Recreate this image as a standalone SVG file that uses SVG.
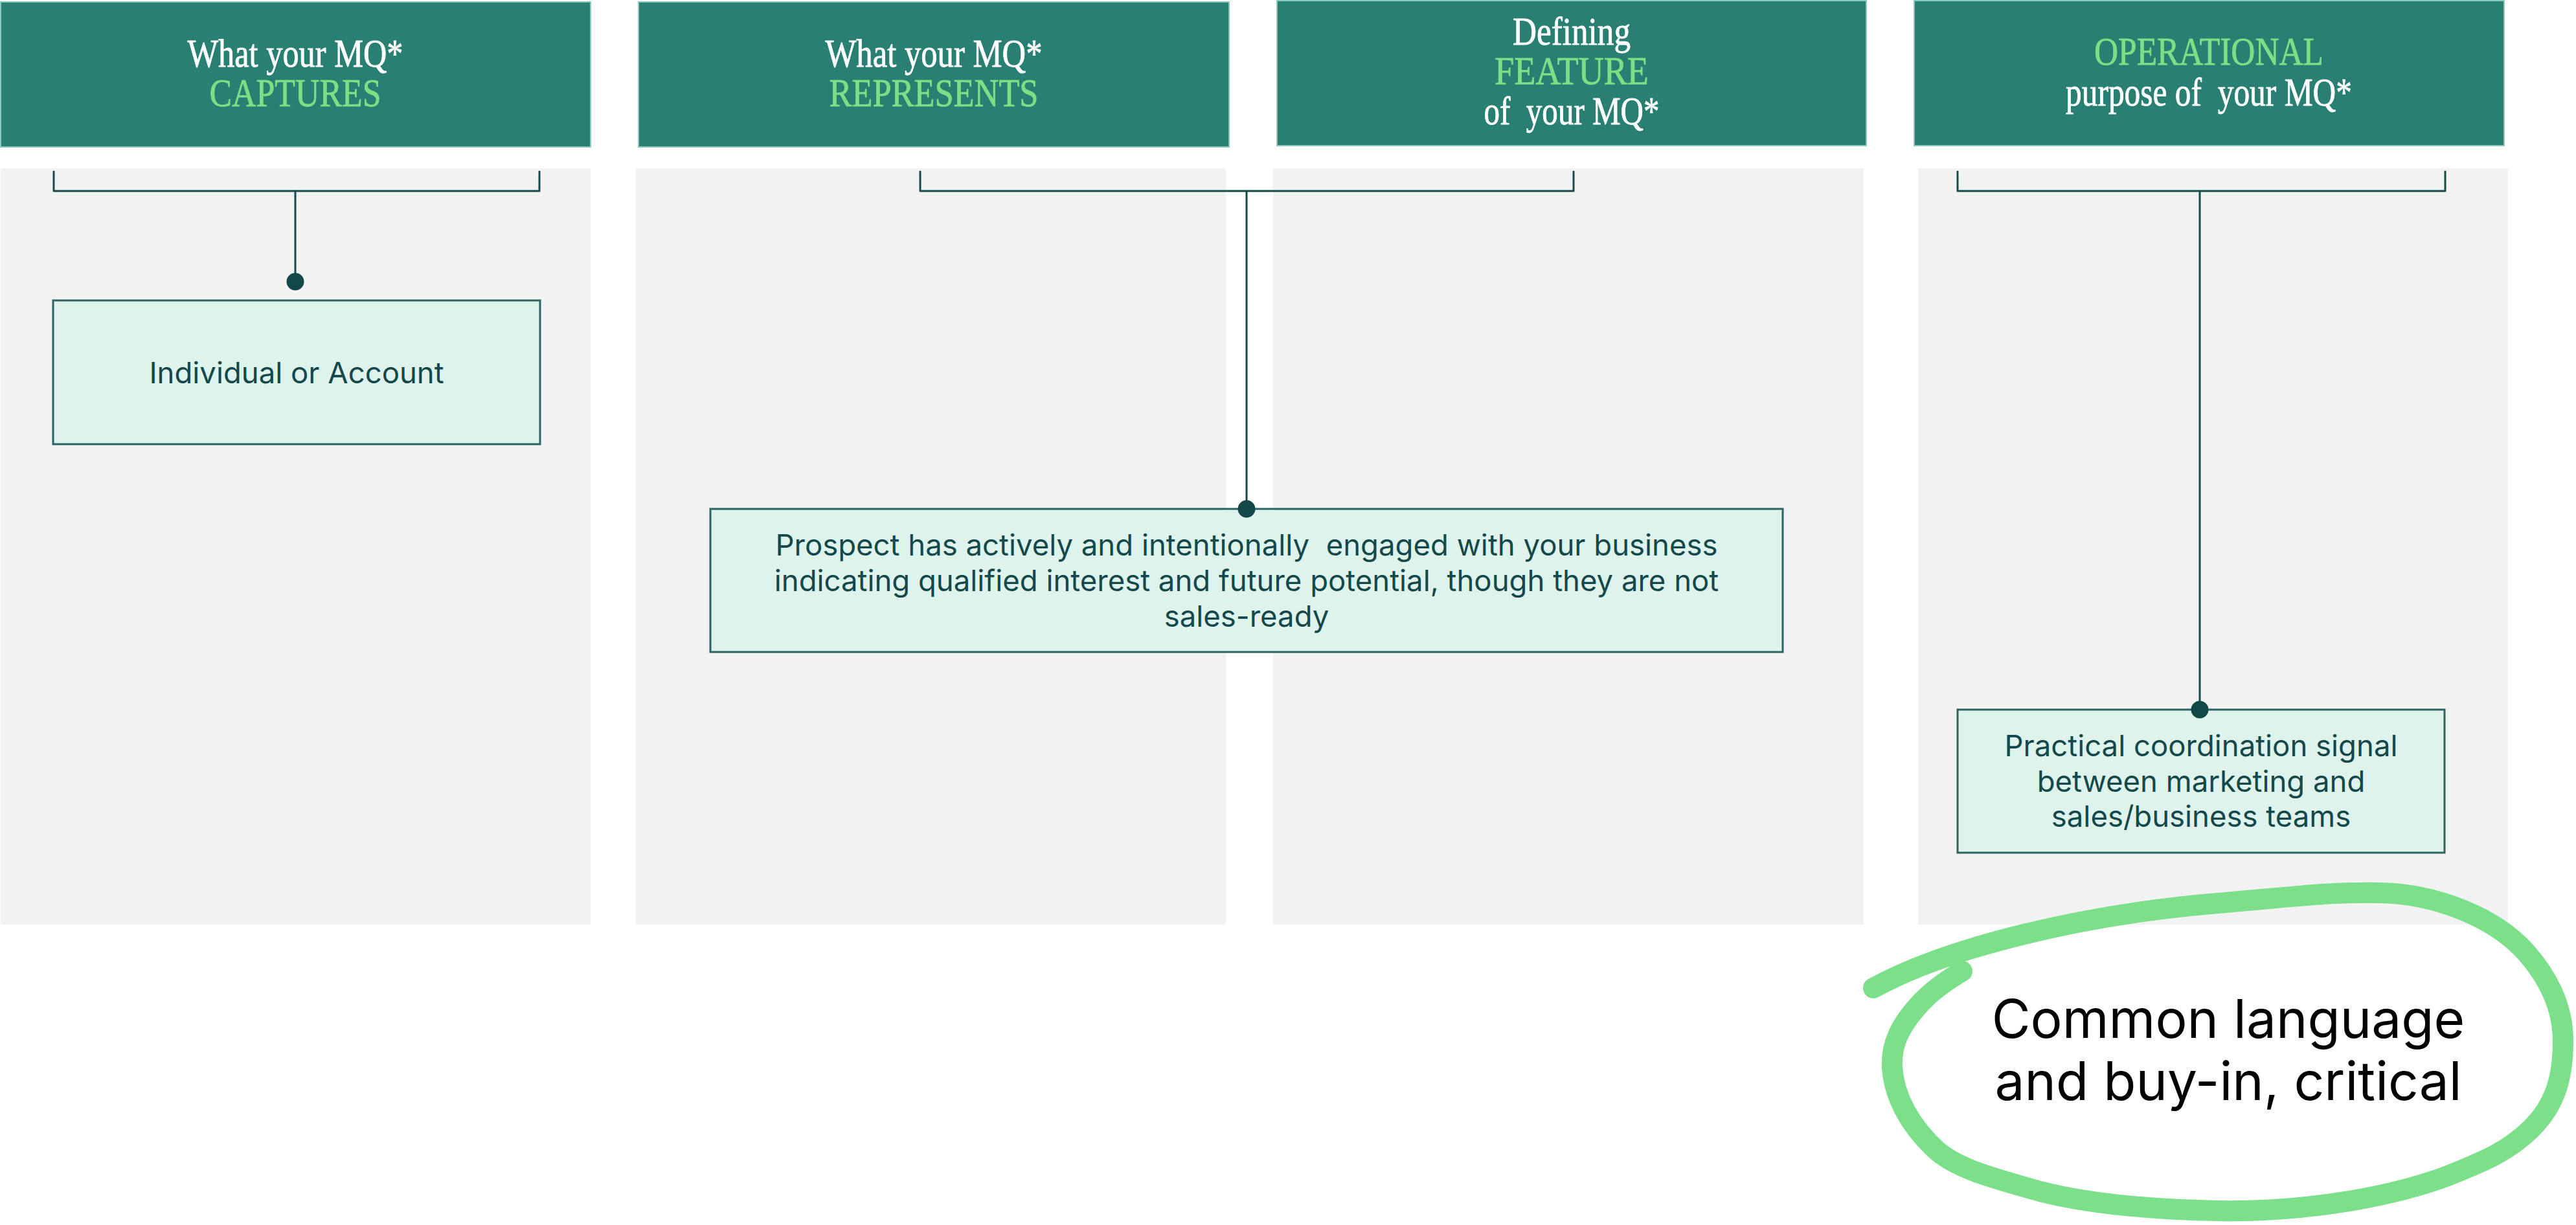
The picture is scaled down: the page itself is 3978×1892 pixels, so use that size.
<svg xmlns="http://www.w3.org/2000/svg" width="3978" height="1892" viewBox="0 0 3978 1892">
<style>
.panel{fill:#F2F2F2}
.hdr{fill:#287F72;stroke:#8CCABD;stroke-width:2}
.ht{font-family:"Liberation Serif","Times New Roman",serif;font-size:62px;fill:#FFFFFF;stroke:#FFFFFF;stroke-width:0.8;text-anchor:middle}
.hg{fill:#7BDF86;stroke:#7BDF86}
.box{fill:#DDF3EC;stroke:#2D6360;stroke-width:3}
.bt{font-family:Inter,"Liberation Sans",Arial,sans-serif;font-size:45.5px;fill:#14484A;text-anchor:middle}
.conn{fill:none;stroke:#174A4B;stroke-width:3;stroke-linejoin:round;stroke-linecap:round}
.dot{fill:#134849}
.loop{fill:none;stroke:#7BE089;stroke-width:32;stroke-linecap:round;stroke-linejoin:round}
.ct{font-family:Inter,"Liberation Sans",Arial,sans-serif;font-size:82px;fill:#000000;text-anchor:middle}
</style>
<rect width="3978" height="1892" fill="#FFFFFF"/>
<g id="panels">
<rect class="panel" x="1" y="260" width="911" height="1168"/>
<rect class="panel" x="982" y="260" width="911" height="1168"/>
<rect class="panel" x="1966" y="260" width="912" height="1168"/>
<rect class="panel" x="2962" y="260" width="911" height="1168"/>
</g>
<g id="header-captures">
<rect class="hdr" x="1" y="3" width="911" height="224"/>
<text class="ht" x="456" y="103" textLength="333" lengthAdjust="spacingAndGlyphs">What your MQ*</text>
<text class="ht hg" x="456" y="164" textLength="265" lengthAdjust="spacingAndGlyphs">CAPTURES</text>
</g>
<g id="header-represents">
<rect class="hdr" x="986" y="3" width="912" height="224"/>
<text class="ht" x="1442" y="103" textLength="335" lengthAdjust="spacingAndGlyphs">What your MQ*</text>
<text class="ht hg" x="1442" y="164" textLength="323" lengthAdjust="spacingAndGlyphs">REPRESENTS</text>
</g>
<g id="header-feature">
<rect class="hdr" x="1972" y="1" width="910" height="224"/>
<text class="ht" x="2427" y="69" textLength="182" lengthAdjust="spacingAndGlyphs">Defining</text>
<text class="ht hg" x="2427" y="130" textLength="238" lengthAdjust="spacingAndGlyphs">FEATURE</text>
<text class="ht" x="2427" y="192" textLength="271" lengthAdjust="spacingAndGlyphs" xml:space="preserve">of  your MQ*</text>
</g>
<g id="header-operational">
<rect class="hdr" x="2956" y="1" width="911" height="224"/>
<text class="ht hg" x="3411" y="100" textLength="354" lengthAdjust="spacingAndGlyphs">OPERATIONAL</text>
<text class="ht" x="3411" y="163" textLength="442" lengthAdjust="spacingAndGlyphs" xml:space="preserve">purpose of  your MQ*</text>
</g>
<g id="node-individual">
<rect class="box" x="82" y="464" width="752" height="222"/>
<text class="bt" x="458" y="592">Individual or Account</text>
</g>
<g id="node-prospect">
<rect class="box" x="1097" y="786" width="1656" height="221"/>
<text class="bt" x="1925" y="858" xml:space="preserve">Prospect has actively and intentionally  engaged with your business</text>
<text class="bt" x="1925" y="913">indicating qualified interest and future potential, though they are not</text>
<text class="bt" x="1925" y="968">sales-ready</text>
</g>
<g id="node-practical">
<rect class="box" x="3023" y="1096" width="752" height="221"/>
<text class="bt" x="3399" y="1168">Practical coordination signal</text>
<text class="bt" x="3399" y="1223">between marketing and</text>
<text class="bt" x="3399" y="1277">sales/business teams</text>
</g>
<g id="connectors">
<path class="conn" d="M83 265 L83 295 L833 295 L833 265"/>
<path class="conn" d="M456 295 L456 435"/>
<circle class="dot" cx="456" cy="435" r="13.5"/>
<path class="conn" d="M1421 265 L1421 295 L2430 295 L2430 265"/>
<path class="conn" d="M1925 295 L1925 786"/>
<circle class="dot" cx="1925" cy="786" r="13.5"/>
<path class="conn" d="M3023 265 L3023 295 L3776 295 L3776 265"/>
<path class="conn" d="M3397 295 L3397 1096"/>
<circle class="dot" cx="3397" cy="1096" r="13.5"/>
</g>
<g id="callout">
<path class="loop" d="M2893 1526 C3010 1462 3220 1412 3425 1395 C3530 1386 3600 1377 3677 1379 C3760 1381 3850 1415 3900 1470 C3940 1515 3958 1560 3958 1608 C3958 1668 3944 1708 3910 1742 C3872 1780 3832 1795 3775 1818 C3672 1855 3540 1872 3425 1870 C3320 1868 3228 1860 3150 1840 C3088 1822 3028 1808 2992 1778 C2950 1740 2925 1694 2922 1649 C2920 1612 2935 1585 2958 1558 C2980 1532 3005 1515 3030 1500"/>
<text class="ct" x="3441" y="1603">Common language</text>
<text class="ct" x="3441" y="1699">and buy-in, critical</text>
</g>
</svg>
